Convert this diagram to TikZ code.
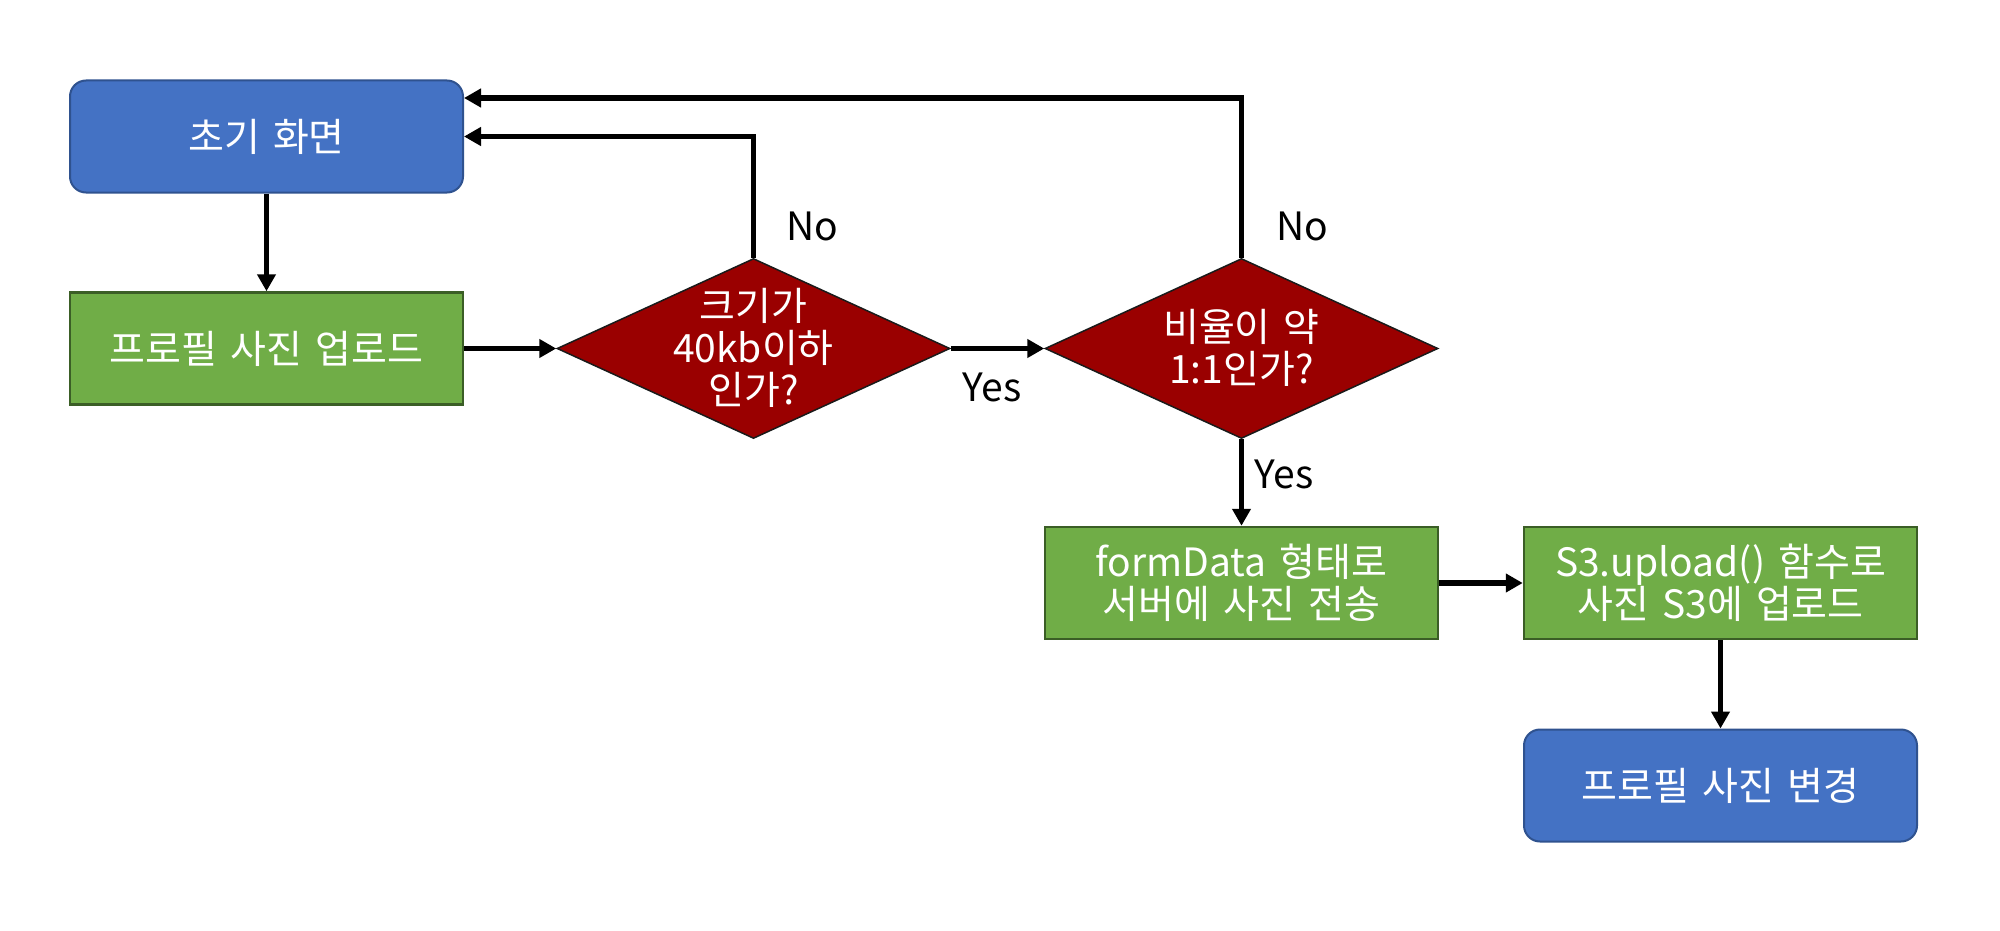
\documentclass[tikz,border=0pt]{standalone}
\usepackage{fontspec}
\setmainfont[WordSpace=1.5]{Noto Sans CJK KR}
\usetikzlibrary{shapes.geometric,arrows.meta}
\definecolor{bfill}{HTML}{4472C4}
\definecolor{bdraw}{HTML}{2F528F}
\definecolor{gfill}{HTML}{70AD47}
\definecolor{gdraw}{HTML}{3B5E26}
\definecolor{rfill}{HTML}{9A0000}
\definecolor{rdraw}{HTML}{1A1A1A}
\tikzset{
  basetext/.style={font=\fontsize{39}{42}\selectfont, align=center},
  startbox/.style={basetext, draw=bdraw, fill=bfill, text=white, line width=2pt, rounded corners=16pt, minimum width=393pt, minimum height=112pt, inner sep=0pt},
  procbox/.style={basetext, draw=gdraw, fill=gfill, text=white, line width=2.5pt, minimum width=393pt, minimum height=112pt, inner sep=0pt},
  decbox/.style={diamond, draw=rdraw, fill=rfill, line width=1.5pt, minimum width=393pt, minimum height=180pt, inner sep=0pt},
  dectext/.style={basetext, text=white, inner sep=0pt},
  lbl/.style={basetext, text=black, inner sep=0pt},
  conn/.style={line width=5.2pt, -{Triangle[length=17pt,width=18pt]}},
}
\begin{document}
\begin{tikzpicture}[x=1pt,y=-1pt]
\useasboundingbox[fill=white] (0,0) rectangle (2000,931);
\node[startbox] (init) at (266.5,136.5) {초기 화면};
\node[procbox] (upload) at (266.5,348.5) {프로필 사진 업로드};
\node[decbox] (d1) at (753.5,348.5) {};
\node[dectext] (d1t) at (753.5,348) {크기가\\40kb이하\\인가?};
\node[decbox] (d2) at (1241.5,348.5) {};
\node[dectext] (d2t) at (1241.5,348) {비율이 약\\1:1인가?};
\node[procbox] (form) at (1241.5,583) {formData 형태로\\서버에 사진 전송};
\node[procbox] (s3) at (1720.5,583) {S3.upload() 함수로\\사진 S3에 업로드};
\node[startbox] (change) at (1720.5,785.5) {프로필 사진 변경};
\node[lbl] (no1) at (812,226) {No};
\node[lbl] (no2) at (1302,226) {No};
\node[lbl] (yes1) at (992,387) {Yes};
\node[lbl] (yes2) at (1284,474) {Yes};
\draw[conn] (init.south) -- (upload.north);
\draw[conn] (upload.east) -- (d1.west);
\draw[conn] (d1.east) -- (d2.west);
\draw[conn] (d1.north) |- (init.east);
\draw[conn] (d2.north) |- ([yshift=38.5pt]init.east);
\draw[conn] (d2.south) -- (form.north);
\draw[conn] (form.east) -- (s3.west);
\draw[conn] (s3.south) -- (change.north);
\end{tikzpicture}
\end{document}
